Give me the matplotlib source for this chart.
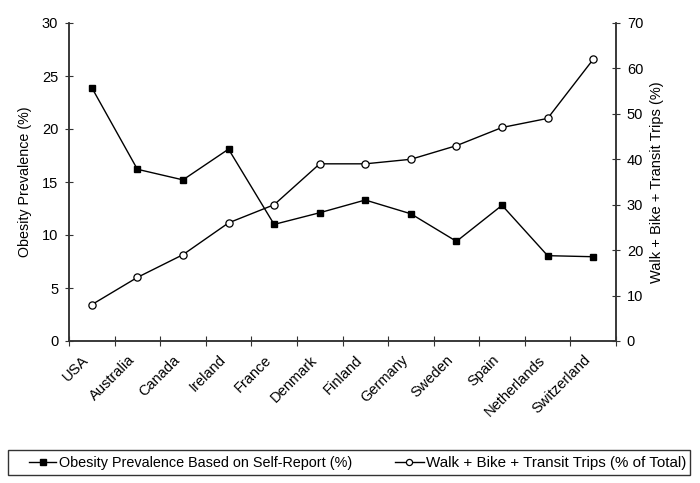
import matplotlib.pyplot as plt
import matplotlib.transforms as mtrans
import numpy as np

plt.rcParams['font.family'] = ['Liberation Sans', 'DejaVu Sans']

countries = ['USA', 'Australia', 'Canada', 'Ireland', 'France', 'Denmark',
             'Finland', 'Germany', 'Sweden', 'Spain', 'Netherlands', 'Switzerland']
obesity = [23.9, 16.2, 15.2, 18.1, 11.0, 12.1, 13.3, 12.0, 9.4, 12.8, 8.05, 7.95]
active_trips = [8, 14, 19, 26, 30, 39, 39, 40, 43, 47, 49, 62]

W, H = 700, 483
fig = plt.figure(figsize=(W / 100, H / 100), dpi=100)
ax = fig.add_axes([69 / W, 1 - 341 / H, 547 / W, 318 / H])
ax2 = ax.twinx()

dark = '#333333'
x = np.arange(len(countries))
l1, = ax.plot(x, obesity, color='black', lw=1, marker='s', ms=5,
              mfc='black', mec='black',
              label='Obesity Prevalence Based on Self-Report (%)')
l2, = ax2.plot(x, active_trips, color='black', lw=1, marker='o', ms=5.2,
               mfc='white', mec='black', mew=0.9,
               label='Walk + Bike + Transit Trips (% of Total)')

ax.set_xlim(-0.5, len(countries) - 0.5)
ax.set_ylim(0, 30)
ax2.set_ylim(0, 70)
ax.set_yticks(range(0, 31, 5))
ax2.set_yticks(range(0, 71, 10))

# category boundaries as ticks, names centred on points
ax.set_xticks(np.arange(-0.5, len(countries), 1.0))
ax.set_xticklabels([])
ax.set_xticks(x, minor=True)
ax.set_xticklabels(countries, minor=True, rotation=45, ha='right', va='center',
                   rotation_mode='anchor', fontsize=10.5)
ax.tick_params(axis='x', which='minor', length=0, pad=12)
ax.tick_params(axis='x', which='major', direction='inout', length=6.5, color=dark)
shift = mtrans.ScaledTranslation(-0.05, 0, fig.dpi_scale_trans)
for lab in ax.get_xticklabels(minor=True):
    lab.set_transform(lab.get_transform() + shift)

ax.tick_params(axis='y', direction='inout', length=5.5, labelsize=10.5, color=dark, pad=5)
ax2.tick_params(axis='y', direction='inout', length=5.5, labelsize=10.5, color=dark, pad=5)

for a in (ax, ax2):
    a.spines['top'].set_visible(False)
    for s in ('left', 'right', 'bottom'):
        a.spines[s].set_color(dark)
        a.spines[s].set_linewidth(1.1)

ax.set_ylabel('Obesity Prevalence (%)', fontsize=10.3, labelpad=7)
ax2.set_ylabel('Walk + Bike + Transit Trips (%)', fontsize=10.5, labelpad=5)

# legend frame
fig.add_artist(plt.Rectangle((8 / W, 1 - 475 / H), 682 / W, 25 / H,
                             transform=fig.transFigure, fill=False,
                             edgecolor=dark, lw=1))

common = dict(frameon=False, markerscale=0.85, handlelength=1.9,
              handletextpad=0.15, borderaxespad=0, borderpad=0)
fig.legend([l1], [l1.get_label()], loc='center left', fontsize=10.4,
           bbox_to_anchor=(29 / W, 1 - 463 / H), **common)
fig.legend([l2], [l2.get_label()], loc='center left', fontsize=10.9,
           bbox_to_anchor=(395 / W, 1 - 463 / H), **common)

plt.savefig('out.png', dpi=100)
